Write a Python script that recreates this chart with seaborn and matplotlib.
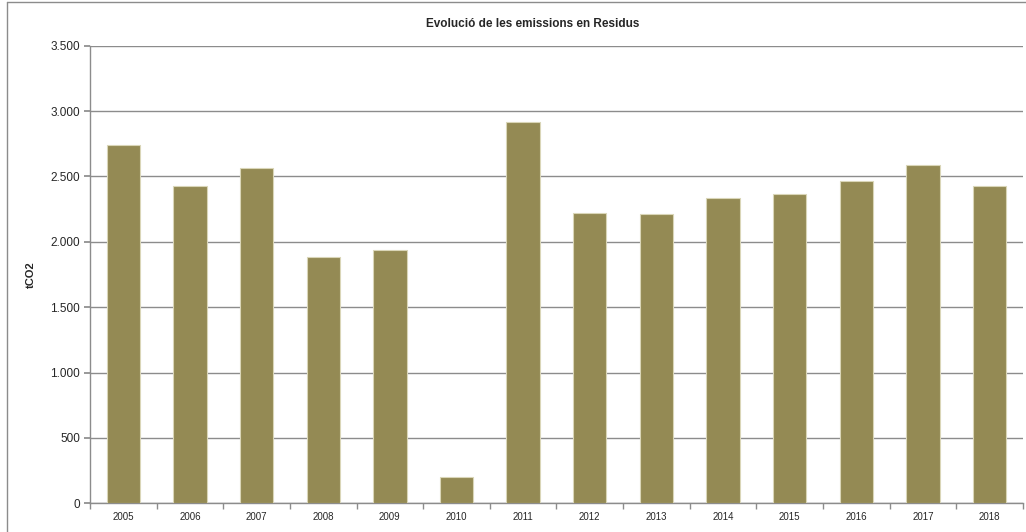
import matplotlib
matplotlib.use("Agg")
import matplotlib.pyplot as plt
from matplotlib.ticker import FixedLocator, FuncFormatter
from matplotlib.lines import Line2D
import seaborn as sns
import pandas as pd

years = ["2005", "2006", "2007", "2008", "2009", "2010", "2011",
         "2012", "2013", "2014", "2015", "2016", "2017", "2018"]
emissions = [2739, 2425, 2563, 1882, 1940, 199, 2915,
             2218, 2213, 2338, 2364, 2466, 2586, 2425]
y_ticks = [0, 500, 1000, 1500, 2000, 2500, 3000, 3500]

sns.set_theme(style="white")
plt.rcParams["font.family"] = ["Liberation Sans", "DejaVu Sans"]

df = pd.DataFrame({"year": years, "tCO2": emissions})

fig = plt.figure(figsize=(10.26, 5.32), dpi=100)
ax = fig.add_axes([0.0877, 0.054, 0.9093, 0.86])

sns.barplot(data=df, x="year", y="tCO2", color="#948A54", width=0.5,
            saturation=1, edgecolor="#DAD6B8", linewidth=0.8, ax=ax, zorder=3)

ax.set_xlim(-0.5, len(years) - 0.5)
ax.set_ylim(0, 3500)
ax.yaxis.set_major_locator(FixedLocator(y_ticks))
ax.yaxis.set_major_formatter(FuncFormatter(lambda v, p: f"{int(v):,}".replace(",", ".")))
ax.grid(axis="y", color="#8C8C8C", linewidth=1, zorder=0)
ax.set_axisbelow(True)

for s in ["top", "right"]:
    ax.spines[s].set_visible(False)
for s in ["left", "bottom"]:
    ax.spines[s].set_color("#8C8C8C")
    ax.spines[s].set_linewidth(1)

ax.xaxis.set_minor_locator(FixedLocator([i - 0.5 for i in range(len(years) + 1)]))
ax.tick_params(axis="x", which="major", length=0, labelsize=7, pad=6)
ax.tick_params(axis="x", which="minor", length=4, color="#8C8C8C", direction="out", bottom=True)
ax.tick_params(axis="y", length=4, color="#8C8C8C", direction="out", left=True, labelsize=8.5, pad=3)

ax.set_xlabel("")
ax.set_ylabel("tCO2", fontsize=8, fontweight="bold")
ax.yaxis.set_label_coords(-0.058, 0.5)
fig.text(0.5195, 0.955, "Evolució de les emissions en Residus", ha="center", va="center",
         fontsize=8.5, fontweight="bold")

# chart area border (left and top edges visible in the crop)
fig.add_artist(Line2D([0.007, 0.007], [0.0, 0.996], transform=fig.transFigure,
                      color="#8C8C8C", linewidth=1))
fig.add_artist(Line2D([0.007, 1.0], [0.996, 0.996], transform=fig.transFigure,
                      color="#8C8C8C", linewidth=1))

fig.savefig("out.png", dpi=100)
